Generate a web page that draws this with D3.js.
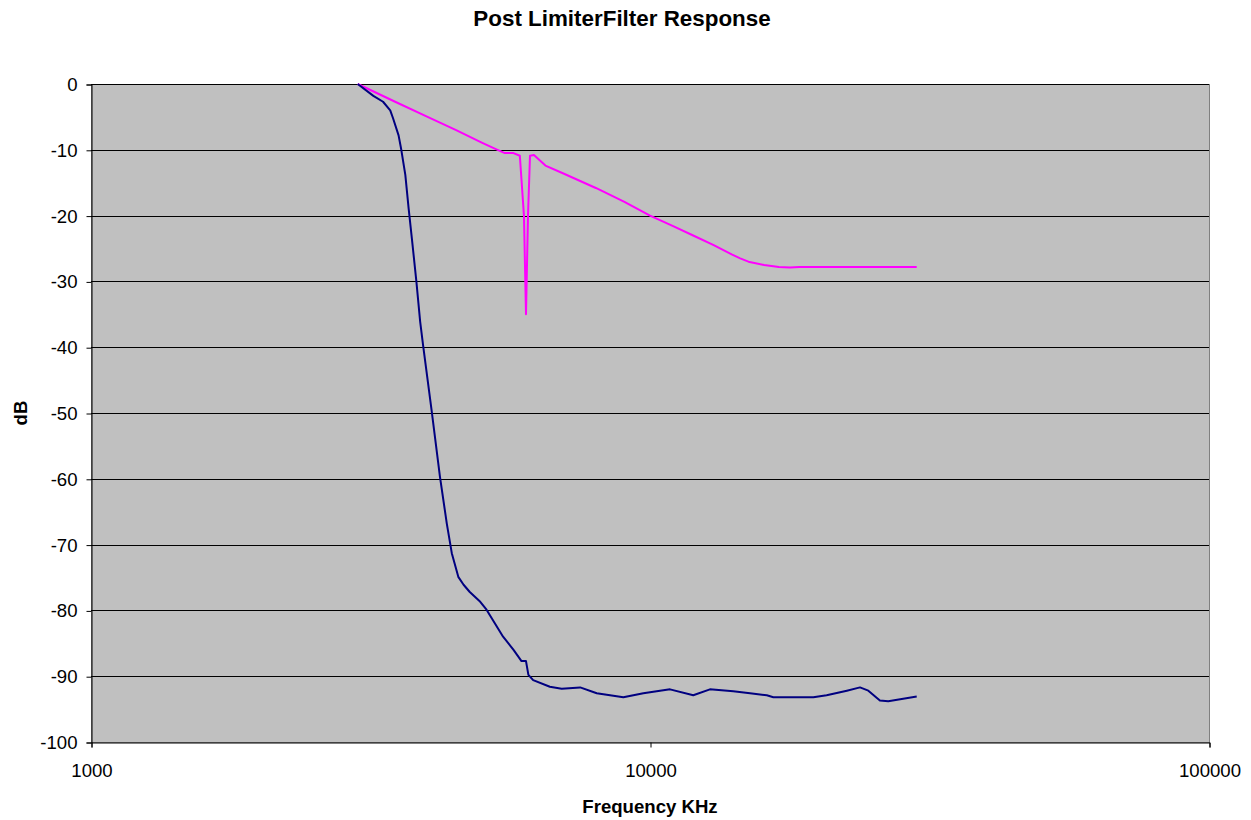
<!DOCTYPE html>
<html>
<head>
<meta charset="utf-8">
<script src="https://cdn.jsdelivr.net/npm/d3@7"></script>
<style>
  html, body { margin: 0; padding: 0; background: #fff; }
  svg { display: block; font-family: Arial, "Liberation Sans", sans-serif; }
</style>
</head>
<body>
<svg id="chart" width="1251" height="820"></svg>
<script>
// Filter response measurements: frequency (KHz) and level (dB)
const limiterFreq = [3000, 3500, 4000, 4500, 5000, 5300, 5500, 5700, 5850, 5950, 6000, 6050, 6100, 6200, 6500, 7000, 8000, 9000, 10000, 11000, 12000, 13000, 14000, 14500, 15000, 16000, 17000, 17800, 18500, 20000, 25000, 30000];
const limiterDb   = [0, -2.7, -5.0, -7.0, -8.9, -9.9, -10.5, -10.5, -10.9, -20, -35, -20, -10.9, -10.8, -12.4, -13.6, -15.8, -17.9, -20, -21.6, -23.1, -24.5, -25.9, -26.5, -27.0, -27.5, -27.8, -27.9, -27.8, -27.8, -27.8, -27.8];

const filterFreq = [3000, 3200, 3330, 3430, 3470, 3550, 3590, 3650, 3700, 3750, 3820, 3880, 3930, 4070, 4210, 4330, 4420, 4540, 4640, 4760, 4970, 5100, 5460, 5700, 5890, 6000, 6060, 6180, 6620, 6950, 7500, 8030, 8960, 9730, 10860, 11950, 12800, 14090, 15100, 16180, 16620, 17800, 19600, 20700, 22500, 23750, 24580, 25780, 26680, 30000];
const filterDb   = [0, -1.8, -2.7, -4.0, -5.2, -7.8, -10, -13.8, -18.9, -23.5, -30, -36.1, -39.9, -49.8, -59.7, -66.8, -71.3, -74.9, -76.1, -77.2, -78.7, -79.9, -84.0, -86.0, -87.7, -87.7, -89.8, -90.6, -91.6, -91.9, -91.7, -92.6, -93.2, -92.6, -92.0, -92.9, -92.0, -92.3, -92.6, -92.9, -93.2, -93.2, -93.2, -92.9, -92.2, -91.7, -92.2, -93.7, -93.8, -93.1];

const xTicks = [1000, 10000, 100000];
const yTicks = [0, -10, -20, -30, -40, -50, -60, -70, -80, -90, -100];

const titleText = "Post LimiterFilter Response";
const xTitle = "Frequency KHz";
const yTitle = "dB";

const svg = d3.select("#chart");
const plotLeft = 91, plotRight = 1209, plotTop = 84, plotBottom = 742;
const tickFont = "18.6px";
const titleFont = "22.4px";
const plainNumber = d => String(d);   // ASCII hyphen for negatives

const x = d3.scaleLog().domain([1000, 100000]).range([plotLeft, plotRight]);
const y = d3.scaleLinear().domain([-100, 0]).range([plotBottom, plotTop]);

// plot area
svg.append("rect")
  .attr("x", plotLeft + 0.5).attr("y", plotTop + 0.5)
  .attr("width", plotRight - plotLeft).attr("height", plotBottom - plotTop)
  .attr("fill", "#c0c0c0")
  .attr("stroke", "#808080").attr("stroke-width", 1);

// horizontal gridlines
svg.append("g")
  .selectAll("line")
  .data(yTicks.filter(d => d !== -100))
  .join("line")
  .attr("x1", plotLeft).attr("x2", plotRight)
  .attr("y1", d => Math.round(y(d)) + 0.5)
  .attr("y2", d => Math.round(y(d)) + 0.5)
  .attr("stroke", "#000").attr("stroke-width", 1);

// y axis
const yAxis = svg.append("g")
  .attr("transform", `translate(${plotLeft + 0.5},0.5)`)
  .call(d3.axisLeft(y).tickValues(yTicks).tickSize(5).tickPadding(9).tickFormat(plainNumber));
yAxis.select(".domain").attr("stroke", "#000");
yAxis.selectAll("text").attr("fill", "#000")
  .style("font-size", tickFont)
  .style("font-family", "Arial, 'Liberation Sans', sans-serif");

// x axis
const xAxis = svg.append("g")
  .attr("transform", `translate(0.5,${plotBottom + 0.5})`)
  .call(d3.axisBottom(x).tickValues(xTicks).tickSize(5).tickPadding(16).tickFormat(plainNumber));
xAxis.select(".domain").attr("stroke", "#000");
xAxis.selectAll("text").attr("fill", "#000")
  .style("font-size", tickFont)
  .style("font-family", "Arial, 'Liberation Sans', sans-serif");

const line = d3.line().x(d => x(d[0])).y(d => y(d[1]));

svg.append("path")
  .datum(limiterFreq.map((f, i) => [f, limiterDb[i]]))
  .attr("d", line)
  .attr("fill", "none").attr("stroke", "#ff00ff").attr("stroke-width", 2)
  .attr("stroke-linejoin", "round");

svg.append("path")
  .datum(filterFreq.map((f, i) => [f, filterDb[i]]))
  .attr("d", line)
  .attr("fill", "none").attr("stroke", "#000080").attr("stroke-width", 2)
  .attr("stroke-linejoin", "round");

// titles
svg.append("text")
  .attr("x", 622).attr("y", 26)
  .attr("text-anchor", "middle")
  .style("font-size", titleFont).attr("font-weight", "bold")
  .text(titleText);

svg.append("text")
  .attr("x", 650).attr("y", 813)
  .attr("text-anchor", "middle")
  .style("font-size", tickFont).attr("font-weight", "bold")
  .text(xTitle);

svg.append("text")
  .attr("transform", "translate(27,413) rotate(-90)")
  .attr("text-anchor", "middle")
  .style("font-size", tickFont).attr("font-weight", "bold")
  .text(yTitle);
</script>
</body>
</html>
